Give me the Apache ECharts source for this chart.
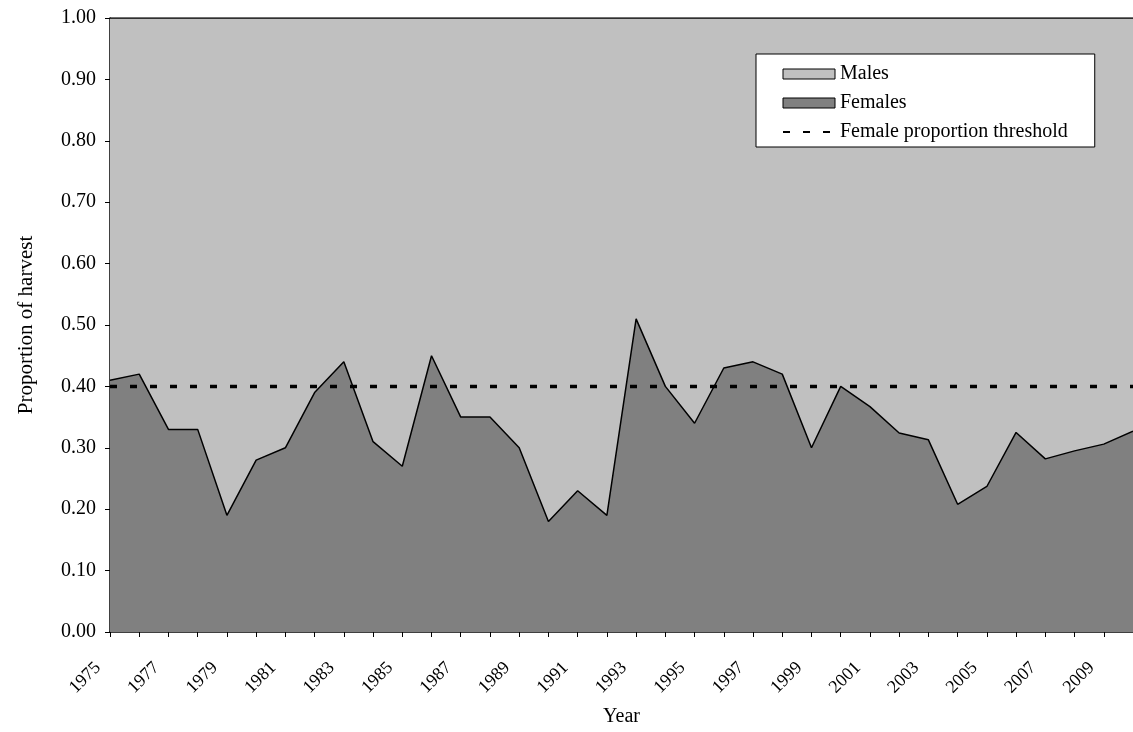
<!DOCTYPE html>
<html>
<head>
<meta charset="utf-8">
<script src="https://cdn.jsdelivr.net/npm/echarts@6/dist/echarts.min.js"></script>
<style>
  html, body { margin: 0; padding: 0; background: #fff; }
  #chart { width: 1133px; height: 732px; }
</style>
</head>
<body>
<div id="chart"></div>
<script>
// years of harvest
const years = ['1975','1976','1977','1978','1979','1980','1981','1982','1983','1984','1985','1986',
  '1987','1988','1989','1990','1991','1992','1993','1994','1995','1996','1997','1998',
  '1999','2000','2001','2002','2003','2004','2005','2006','2007','2008','2009','2010'];

// proportion of harvest that is female
const females = [0.41, 0.42, 0.33, 0.33, 0.19, 0.28, 0.30, 0.39, 0.44, 0.31, 0.27, 0.45,
  0.35, 0.35, 0.30, 0.18, 0.23, 0.19, 0.51, 0.40, 0.34, 0.43, 0.44, 0.42,
  0.30, 0.40, 0.367, 0.324, 0.313, 0.208, 0.237, 0.325, 0.282, 0.295, 0.306, 0.327];

// proportion of harvest that is male (stacked on top of females)
const males = [0.59, 0.58, 0.67, 0.67, 0.81, 0.72, 0.70, 0.61, 0.56, 0.69, 0.73, 0.55,
  0.65, 0.65, 0.70, 0.82, 0.77, 0.81, 0.49, 0.60, 0.66, 0.57, 0.56, 0.58,
  0.70, 0.60, 0.633, 0.676, 0.687, 0.792, 0.763, 0.675, 0.718, 0.705, 0.694, 0.673];

// female proportion threshold
const threshold = [0.40, 0.40, 0.40, 0.40, 0.40, 0.40, 0.40, 0.40, 0.40, 0.40, 0.40, 0.40,
  0.40, 0.40, 0.40, 0.40, 0.40, 0.40, 0.40, 0.40, 0.40, 0.40, 0.40, 0.40,
  0.40, 0.40, 0.40, 0.40, 0.40, 0.40, 0.40, 0.40, 0.40, 0.40, 0.40, 0.40];

const FONT = '"Liberation Serif", "Times New Roman", serif';

const chart = echarts.init(document.getElementById('chart'), null, { renderer: 'canvas' });

const option = {
  animation: false,
  textStyle: { fontFamily: FONT, color: '#000' },
  grid: { left: 110, right: 0, top: 18, bottom: 100, outerBoundsMode: 'none' },
  legend: {
    left: 756,
    top: 54,
    orient: 'vertical',
    backgroundColor: '#fff',
    borderColor: '#000',
    borderWidth: 1,
    padding: [10, 27, 5, 26],
    itemGap: 9,
    itemWidth: 52,
    itemHeight: 10,
    textStyle: { fontFamily: FONT, fontSize: 20, color: '#000' },
    data: [
      { name: 'Males', icon: 'rect', itemStyle: { color: '#c0c0c0', borderColor: '#000', borderWidth: 1 } },
      { name: 'Females', icon: 'rect', itemStyle: { color: '#808080', borderColor: '#000', borderWidth: 1 } },
      { name: 'Female proportion threshold', itemStyle: { opacity: 0 } }
    ]
  },
  xAxis: {
    type: 'category',
    data: years,
    boundaryGap: false,
    name: 'Year',
    nameLocation: 'middle',
    nameGap: 75,
    nameTextStyle: { fontFamily: FONT, fontSize: 20, color: '#000' },
    axisLine: { lineStyle: { color: '#000', width: 1.5 } },
    axisTick: { show: true, interval: 0, length: 5, lineStyle: { color: '#000', width: 1 } },
    axisLabel: {
      interval: 1,
      rotate: 45,
      margin: 21,
      padding: [0, 17, 0, 0],
      fontFamily: FONT,
      fontSize: 18,
      color: '#000'
    },
    splitLine: { show: false }
  },
  yAxis: {
    type: 'value',
    min: 0,
    max: 1,
    interval: 0.1,
    name: 'Proportion of harvest',
    nameLocation: 'middle',
    nameGap: 73,
    nameTextStyle: { fontFamily: FONT, fontSize: 21, color: '#000' },
    axisLine: { show: true, lineStyle: { color: '#000', width: 1.5 } },
    axisTick: { show: true, length: 5, lineStyle: { color: '#000', width: 1 } },
    axisLabel: {
      margin: 14,
      fontFamily: FONT,
      fontSize: 20,
      color: '#000',
      formatter: v => v.toFixed(2)
    },
    splitLine: { show: false }
  },
  series: [
    {
      name: 'Females',
      type: 'line',
      stack: 'harvest',
      data: females,
      symbol: 'none',
      lineStyle: { color: '#000', width: 1.5 },
      itemStyle: { color: '#808080' },
      areaStyle: { color: '#808080', opacity: 1 },
      z: 3
    },
    {
      name: 'Males',
      type: 'line',
      stack: 'harvest',
      data: males,
      symbol: 'none',
      lineStyle: { color: '#000', width: 1.5 },
      itemStyle: { color: '#c0c0c0' },
      areaStyle: { color: '#c0c0c0', opacity: 1 },
      z: 2
    },
    {
      name: 'Female proportion threshold',
      type: 'line',
      data: threshold,
      symbol: 'none',
      itemStyle: { color: '#000' },
      lineStyle: { color: '#000', width: 3.5, type: [7, 13] },
      z: 4
    }
  ]
};

chart.setOption(option);
</script>
</body>
</html>
